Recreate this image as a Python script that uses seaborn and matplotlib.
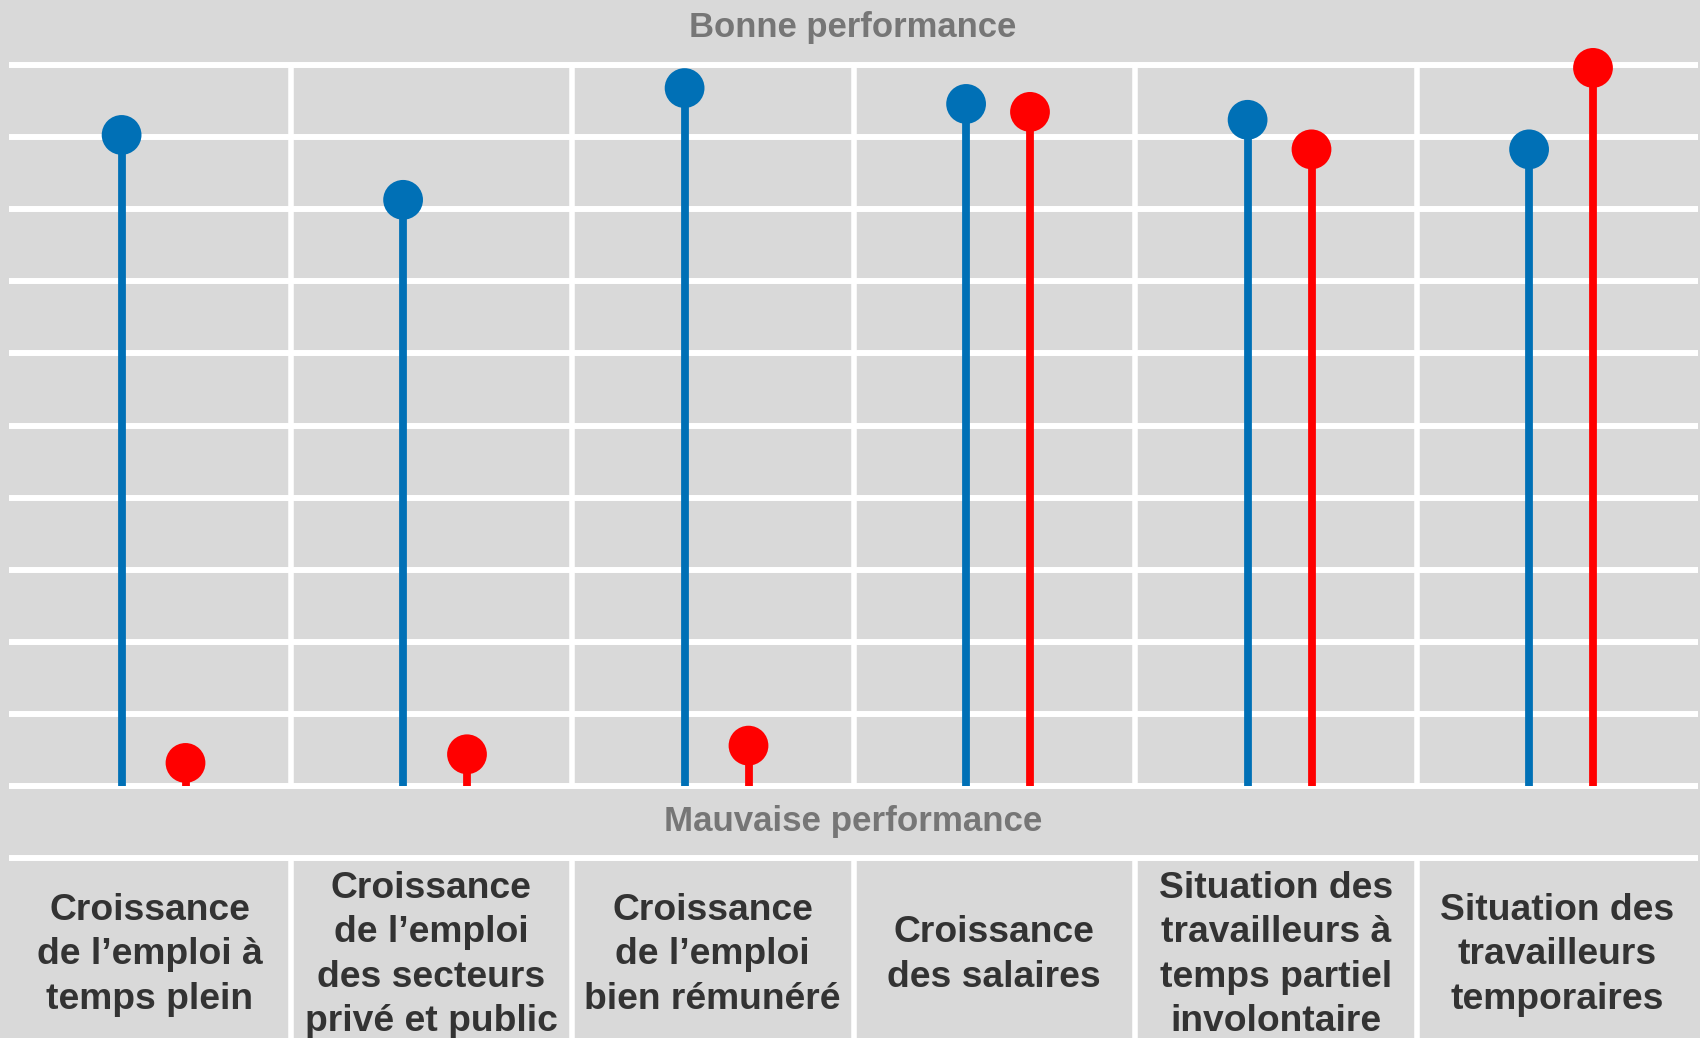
import matplotlib
matplotlib.use("Agg")
import matplotlib.pyplot as plt
import seaborn as sns
import pandas as pd
import numpy as np

# ---- data ----
categories = [
    "Croissance\nde l\u2019emploi à\ntemps plein",
    "Croissance\nde l\u2019emploi\ndes secteurs\nprivé et public",
    "Croissance\nde l\u2019emploi\nbien rémunéré",
    "Croissance\ndes salaires",
    "Situation des\ntravailleurs à\ntemps partiel\ninvolontaire",
    "Situation des\ntravailleurs\ntemporaires",
]
series_names = ["Série bleue", "Série rouge"]
blue_values = [9.03, 8.13, 9.68, 9.46, 9.24, 8.83]
red_values = [0.32, 0.44, 0.56, 9.35, 8.83, 9.96]
top_label = "Bonne performance"
bottom_label = "Mauvaise performance"

BG = "#D9D9D9"
BLUE = "#0070B6"
RED = "#FF0000"
palette = {series_names[0]: BLUE, series_names[1]: RED}

sns.set_theme(style="white")
plt.rcParams["font.family"] = ["Liberation Sans", "DejaVu Sans"]

W, H = 1700, 1038
fig = plt.figure(figsize=(W / 100, H / 100), dpi=100, facecolor=BG)

# main plotting axes: y 0..10 maps to pixels 786..65
y_top_px, y_bot_px = 65, 786
pad = 0.06
unit = (y_bot_px - y_top_px) / 10.0
ax_bottom = (H - y_bot_px - pad * unit) / H
ax_height = (y_bot_px - y_top_px + 2 * pad * unit) / H
left_px, right_px = 9, 1698
ax = fig.add_axes([left_px / W, ax_bottom, (right_px - left_px) / W, ax_height])
ax.set_facecolor(BG)

offsets = {series_names[0]: -0.100, series_names[1]: 0.127}
rows = []
for i, cat in enumerate(categories):
    rows.append({"cat": i, "pos": i + offsets[series_names[0]], "value": blue_values[i], "series": series_names[0]})
    rows.append({"cat": i, "pos": i + offsets[series_names[1]], "value": red_values[i], "series": series_names[1]})
df = pd.DataFrame(rows)

# grid
for yv in range(0, 11):
    ax.axhline(yv, color="white", lw=4.3, zorder=1)
ax.vlines(np.arange(0.5, len(categories) - 0.5, 1.0), 0, 10, color="white", lw=4.0, zorder=1)

# stems
for name in series_names:
    sub = df[df.series == name]
    ax.vlines(sub["pos"], 0, sub["value"], color=palette[name], lw=5.6, zorder=3,
              capstyle="butt")

sns.scatterplot(data=df, x="pos", y="value", hue="series", palette=palette,
                s=820, linewidth=0, legend=False, ax=ax, zorder=4, clip_on=False)

ax.set_xlim(-0.5, len(categories) - 0.5)
ax.set_ylim(-pad, 10 + pad)
ax.set_xticks([])
ax.set_yticks([])
ax.set_xlabel("")
ax.set_ylabel("")
for s in ax.spines.values():
    s.set_visible(False)

# top / bottom captions
fig.text(853 / W, 1 - 27 / H, top_label, ha="center", va="center",
         fontsize=24.9, fontweight="bold", color="#767676")
fig.text(853 / W, 1 - 821 / H, bottom_label, ha="center", va="center",
         fontsize=25.1, fontweight="bold", color="#767676")

# category label panel
lab_top_px = 858
ph = H - lab_top_px + 3
ax2 = fig.add_axes([left_px / W, 0, (right_px - left_px) / W, ph / H])
ax2.set_facecolor(BG)
ax2.set_xlim(-0.5, len(categories) - 0.5)
ax2.set_ylim(0, 1)
ax2.axhline(1 - 3 / ph, color="white", lw=4.3)
ax2.vlines(np.arange(0.5, len(categories) - 0.5, 1.0), 0, 1 - 3 / ph,
           color="white", lw=4.0)
for s in ax2.spines.values():
    s.set_visible(False)
ax2.set_xticks([])
ax2.set_yticks([])
for i, cat in enumerate(categories):
    ax2.text(i, 1 - (955 - lab_top_px + 3) / ph, cat,
             ha="center", va="center", multialignment="center",
             fontsize=26.8, fontweight="bold", color="#333333", linespacing=1.35)

fig.savefig("out.png", dpi=100, facecolor=BG)
